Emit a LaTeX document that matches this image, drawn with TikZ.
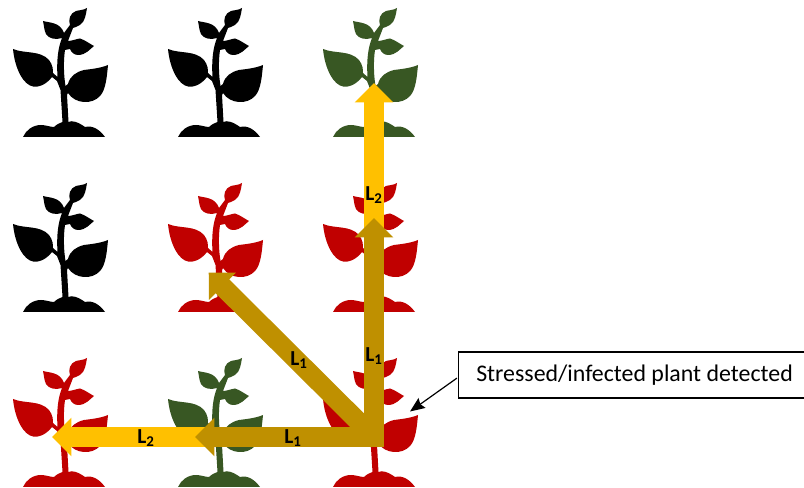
\documentclass[tikz,border=0pt]{standalone}
\usepackage{fontspec}
\setmainfont{Carlito}
\usetikzlibrary{arrows.meta,positioning}
\definecolor{stressred}{HTML}{C00000}
\definecolor{healthygreen}{HTML}{385723}
\definecolor{lonegold}{HTML}{BF9000}
\definecolor{ltwoyellow}{HTML}{FFC000}
\begin{document}
\begin{tikzpicture}[
  x=0.75pt,y=-0.75pt,
  plant/.pic={
    \fill[#1] (13,49) .. controls (25,54) and (40,50) .. (49,60) .. controls (53,65) and (53,70) .. (53,73)
      -- (57.5,77) .. controls (56.5,60) and (58,48) .. (62,38)
      .. controls (56,40) and (49,39) .. (46,34) .. controls (44,30) and (44,25) .. (43,21)
      .. controls (50,23) and (60,22) .. (64,33) -- (70,25)
      .. controls (68,20) and (70,13) .. (76,11) .. controls (80,10) and (84,10) .. (87,8)
      .. controls (86,14) and (85,22) .. (80,25) .. controls (77,27) and (75,27) .. (73,28)
      -- (68,41) .. controls (72,41) and (76,39) .. (80,38.5) .. controls (85,40) and (90,44) .. (94,46)
      .. controls (90,49) and (86,55) .. (78,55) .. controls (74,55) and (71,52) .. (70,49)
      -- (65,50) .. controls (63.5,60) and (63.5,74) .. (65.5,86) -- (68,84)
      .. controls (70,76) and (76,72) .. (84,70) .. controls (92,69) and (101,68) .. (108,65)
      .. controls (107,75) and (106,90) .. (100,96) .. controls (92,105) and (75,104) .. (68,93)
      -- (67,95) -- (68.5,122) .. controls (72,120) and (78,122) .. (85,127)
      .. controls (93,125) and (100,130) .. (105,137) -- (23,137)
      .. controls (26,130) and (33,125) .. (41,125) .. controls (46,125) and (50,127) .. (54,127)
      .. controls (57,124) and (60,123) .. (62.5,122) -- (60.5,90) -- (57,81) -- (52,77)
      .. controls (46,85) and (38,87.5) .. (33,86.5) .. controls (24,85) and (15,70) .. (13,49) -- cycle;
  },
  yellowarr/.style={-{Triangle[length=14.5pt,width=28pt]},line width=14.5pt,ltwoyellow},
  goldarr/.style={-{Triangle[length=14.5pt,width=28pt]},line width=14.5pt,lonegold},
  lab/.style={font=\bfseries\fontsize{16}{17}\selectfont,inner sep=0pt},
  box/.style={draw,line width=1pt,fill=white,outer sep=0pt,minimum width=280pt,minimum height=34.5pt,
              inner sep=0pt},
  arr/.style={-{Stealth[length=11pt,width=9pt,inset=1.5pt]},line width=0.9pt,shorten <=1.5pt}
]
\useasboundingbox (0,0) rectangle (804,488);
\foreach \px/\py/\col in {0/0/black,155/0/black,310/0/healthygreen,
    0/175/black,155/175/stressred,310/175/stressred,
    0/350/stressred,155/350/healthygreen,310/350/stressred}
  \pic at (\px,\py) {plant=\col};
\coordinate (origin) at (374,437);
\coordinate (upgold) at (374,218);
\coordinate (upyellow) at (374,83);
\coordinate (leftgold) at (195,437);
\coordinate (leftyellow) at (52,437);
\coordinate (diaggold) at (208.7,272.7);
\coordinate (leaf) at (410,411.5);
\draw[yellowarr] (origin) -- (upyellow);
\draw[yellowarr] (origin) -- (leftyellow);
\draw[goldarr] (374,447) -- (upgold);
\draw[goldarr] (384,437) -- (leftgold);
\draw[goldarr] (origin) -- (diaggold);
\node[box,anchor=north west] (detected) at (458.5,352) {};
\node[font=\fontsize{17.9}{20}\selectfont,inner sep=0pt,anchor=west] (detectedtext) at (476,375.5) {Stressed/infected plant detected};
\draw[arr] (detected.west |- 0,377) -- (leaf);
\node[lab] (ltwoa) at (374,195) {L\textsubscript{2}};
\node[lab] (ltwob) at (146,438) {L\textsubscript{2}};
\node[lab] (lonea) at (374,356) {L\textsubscript{1}};
\node[lab] (loneb) at (299,360) {L\textsubscript{1}};
\node[lab] (lonec) at (293,438) {L\textsubscript{1}};
\end{tikzpicture}
\end{document}
